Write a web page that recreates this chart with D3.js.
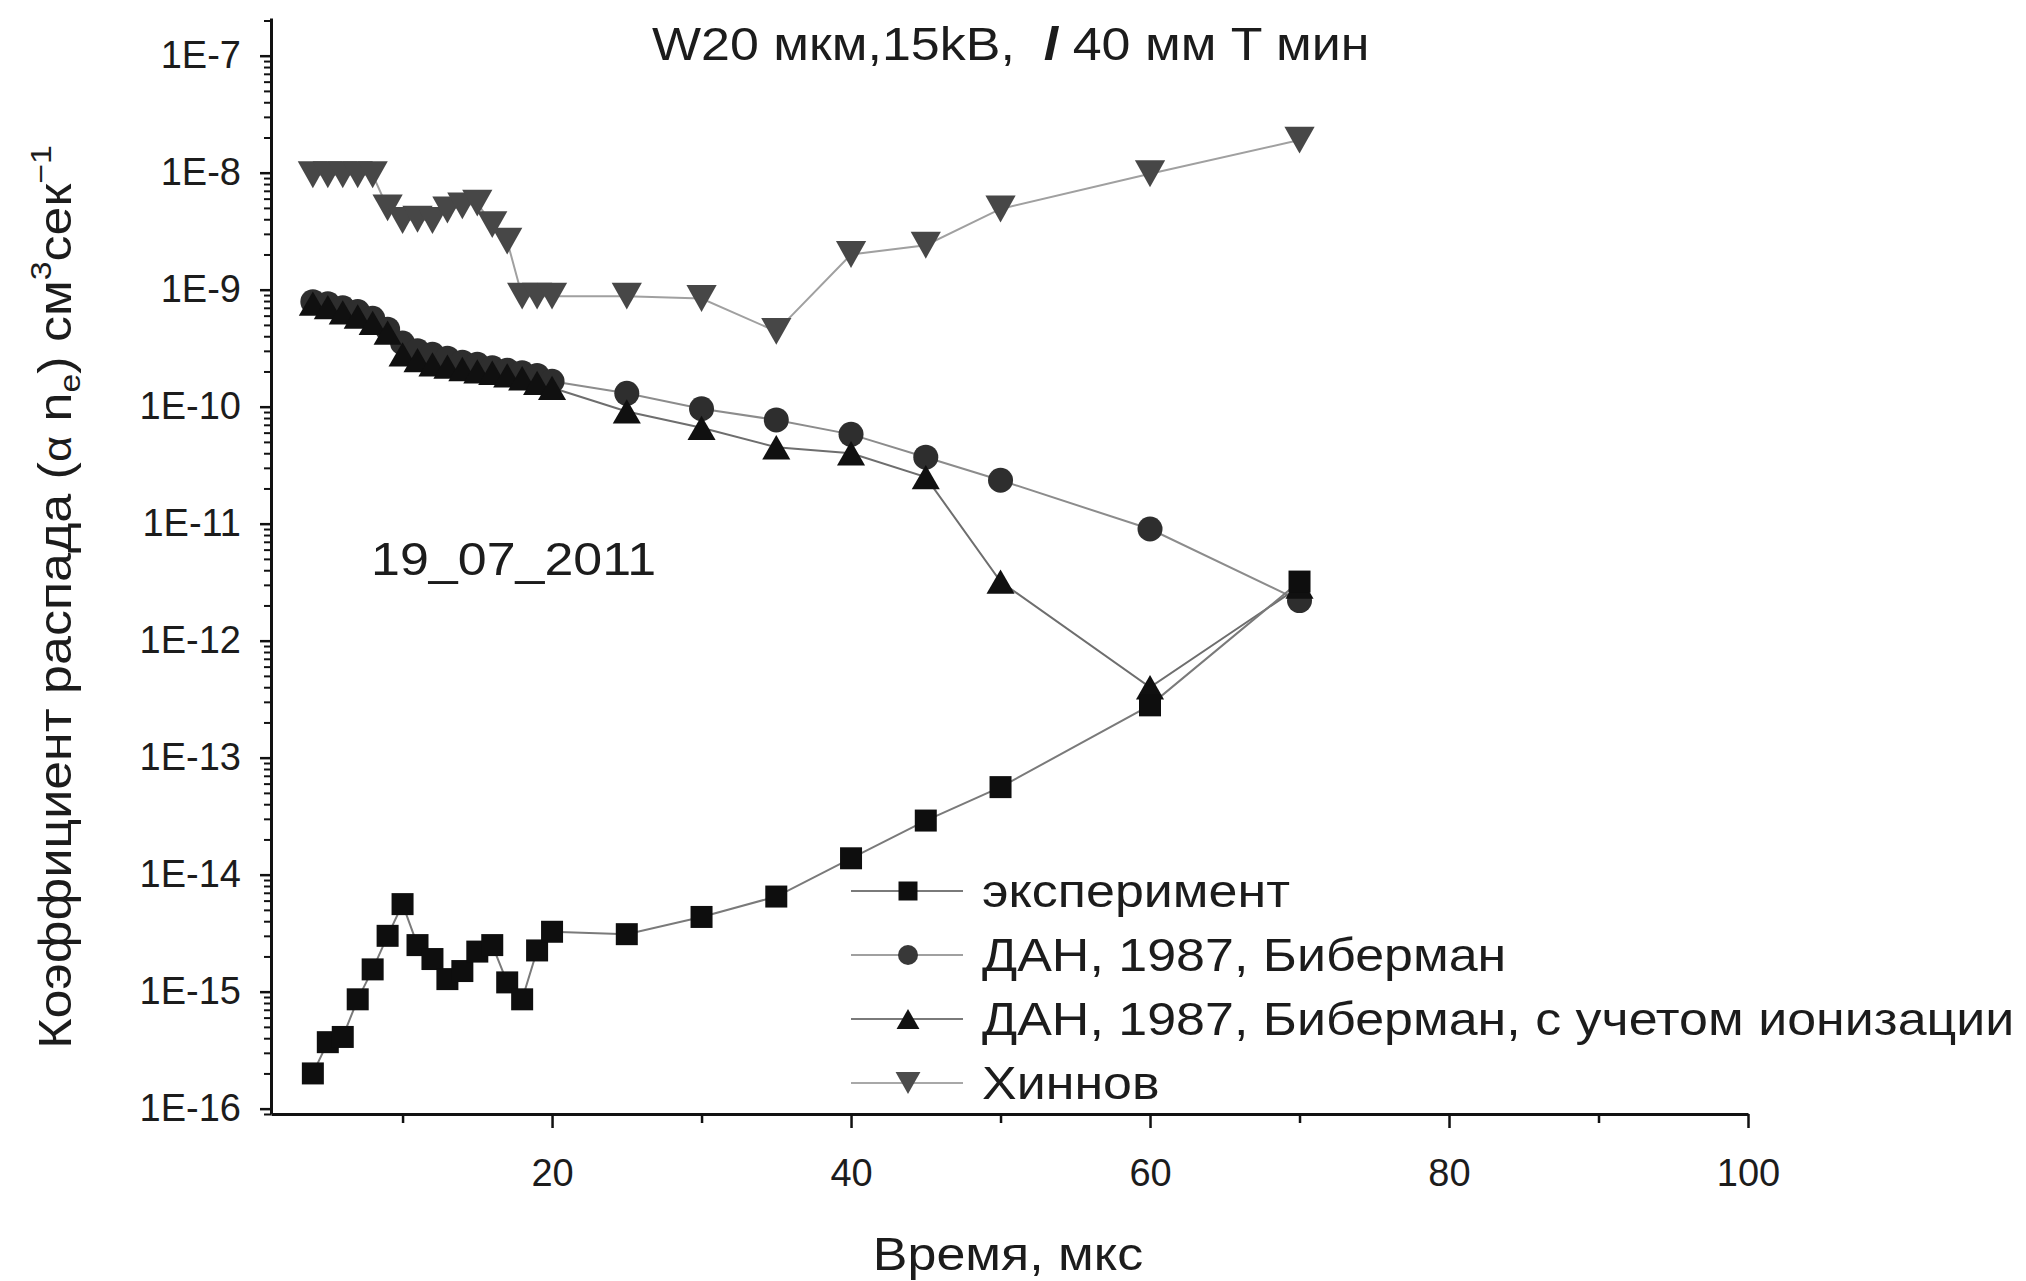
<!DOCTYPE html>
<html>
<head>
<meta charset="utf-8">
<script src="https://cdn.jsdelivr.net/npm/d3@7"></script>
<style>
html,body{margin:0;padding:0;background:#fff;}
svg{display:block;}
text{font-family:"Liberation Sans",Arial,Helvetica,sans-serif;fill:#1c1c1c;white-space:pre;}
</style>
</head>
<body>
<svg id="chart" width="2026" height="1281"></svg>
<script>
// ---------------- data ----------------
const times = [4,5,6,7,8,9,10,11,12,13,14,15,16,17,18,19,20,25,30,35,40,45,50,60,70];

const experiment = [2.0e-16,3.7e-16,4.1e-16,8.6e-16,1.55e-15,3.0e-15,5.6e-15,2.5e-15,1.9e-15,1.28e-15,
  1.5e-15,2.2e-15,2.5e-15,1.2e-15,8.6e-16,2.25e-15,3.25e-15,3.1e-15,4.35e-15,6.5e-15,
  1.38e-14,2.9e-14,5.6e-14,2.8e-13,3.2e-12];

const biberman = [7.9e-10,7.6e-10,7.0e-10,6.5e-10,5.7e-10,4.6e-10,3.5e-10,3.0e-10,2.8e-10,2.6e-10,
  2.4e-10,2.3e-10,2.15e-10,2.05e-10,1.95e-10,1.85e-10,1.65e-10,1.3e-10,9.6e-11,7.7e-11,
  5.8e-11,3.7e-11,2.35e-11,9.0e-12,2.2e-12];

const bibermanIon = [7.6e-10,7.1e-10,6.4e-10,5.9e-10,5.2e-10,4.3e-10,2.8e-10,2.5e-10,2.3e-10,2.2e-10,
  2.1e-10,2.0e-10,1.95e-10,1.85e-10,1.75e-10,1.6e-10,1.45e-10,9.1e-11,6.6e-11,4.5e-11,
  4.0e-11,2.5e-11,3.2e-12,4.0e-13,2.9e-12];

const hinnov = [9.6e-9,9.6e-9,9.6e-9,9.6e-9,9.6e-9,5.0e-9,3.9e-9,4.0e-9,3.9e-9,4.8e-9,
  5.2e-9,5.5e-9,3.6e-9,2.6e-9,8.8e-10,8.8e-10,8.8e-10,8.8e-10,8.4e-10,4.4e-10,
  2.0e-9,2.4e-9,4.9e-9,9.8e-9,1.9e-8];

const seriesNames = ["эксперимент","ДАН, 1987, Биберман","ДАН, 1987, Биберман, с учетом ионизации","Хиннов"];
const xTickValues = [20,40,60,80,100];
const xMinorTickValues = [10,30,50,70,90];
const yTickExponents = [-16,-15,-14,-13,-12,-11,-10,-9,-8,-7];
const titleText = ["W20 мкм,15kB,  ","l"," 40 мм T мин"];
const dateLabel = "19_07_2011";
const xTitle = "Время, мкс";

// ---------------- layout ----------------
const svg = d3.select("#chart");
svg.append("rect").attr("width",2026).attr("height",1281).attr("fill","#fff");

const L = 271, R = 1748, T = 18, B = 1114;
const x = d3.scaleLinear().domain([1.2,100]).range([L,R]);
const y = d3.scaleLog().domain([9e-17,2.1e-7]).range([B,T]);
const SX = 1.13; // horizontal stretch of the original lettering

// ---------------- axes ----------------
const yMajor = yTickExponents.map(e => Math.pow(10,e));
const yMinor = [];
for (let e=-17; e<=-7; e++) for (let m=2; m<=9; m++) {
  const v = m*Math.pow(10,e);
  if (v>y.domain()[0] && v<y.domain()[1]) yMinor.push(v);
}

const yAxisMinor = svg.append("g").attr("transform",`translate(${L},0)`)
  .call(d3.axisLeft(y).tickValues(yMinor).tickSize(7).tickFormat(""));
yAxisMinor.select(".domain").remove();
yAxisMinor.selectAll("line").attr("stroke","#111").attr("stroke-width",2);

const yAxis = svg.append("g").attr("transform",`translate(${L},0)`)
  .call(d3.axisLeft(y).tickValues(yMajor).tickSize(11).tickSizeOuter(0).tickPadding(19)
    .tickFormat(d => "1E" + Math.round(Math.log10(d))));
yAxis.select(".domain").attr("stroke","#111").attr("stroke-width",3);
yAxis.selectAll("line").attr("stroke","#111").attr("stroke-width",2.5);
yAxis.selectAll("text").attr("font-size",38).attr("fill","#1c1c1c")
  .style("font-family",'"Liberation Sans",Arial,sans-serif');

const xAxisMinor = svg.append("g").attr("transform",`translate(0,${B})`)
  .call(d3.axisBottom(x).tickValues(xMinorTickValues).tickSize(9).tickFormat(""));
xAxisMinor.select(".domain").remove();
xAxisMinor.selectAll("line").attr("stroke","#111").attr("stroke-width",2.5);

const xAxis = svg.append("g").attr("transform",`translate(0,${B})`)
  .call(d3.axisBottom(x).tickValues(xTickValues).tickSize(14).tickSizeOuter(0).tickPadding(31)
    .tickFormat(d3.format("d")));
xAxis.select(".domain").attr("stroke","#111").attr("stroke-width",3);
xAxis.selectAll("line").attr("stroke","#111").attr("stroke-width",2.5);
xAxis.selectAll("text").attr("font-size",38).attr("fill","#1c1c1c")
  .style("font-family",'"Liberation Sans",Arial,sans-serif');

// ---------------- symbols ----------------
const sym = {
  square: s => `M${-s/2},${-s/2}h${s}v${s}h${-s}Z`,
  circle: s => d3.symbol(d3.symbolCircle, Math.PI*(s/2)*(s/2))(),
  triUp: s => `M0,${-s*0.45}L${s*0.52},${s*0.45}L${-s*0.52},${s*0.45}Z`,
  triDown: s => `M0,${s*0.48}L${s*0.54},${-s*0.48}L${-s*0.54},${-s*0.48}Z`
};

const series = [
  {name:seriesNames[1], values:biberman,    shape:"circle",  size:25, fill:"#2e2e2e", line:"#8c8c8c"},
  {name:seriesNames[2], values:bibermanIon, shape:"triUp",   size:27, fill:"#101010", line:"#6e6e6e"},
  {name:seriesNames[0], values:experiment,  shape:"square",  size:22, fill:"#0e0e0e", line:"#7a7a7a"},
  {name:seriesNames[3], values:hinnov,      shape:"triDown", size:28, fill:"#474747", line:"#a0a0a0"}
];

const lineGen = d3.line().x(d => x(d[0])).y(d => y(d[1]));
series.forEach(s => {
  const pts = times.map((t,i) => [t, s.values[i]]);
  svg.append("path").datum(pts).attr("d",lineGen)
    .attr("fill","none").attr("stroke",s.line).attr("stroke-width",2);
});
series.forEach(s => {
  const pts = times.map((t,i) => [t, s.values[i]]);
  svg.append("g").selectAll("path").data(pts).join("path")
    .attr("transform",d => `translate(${x(d[0])},${y(d[1])})`)
    .attr("d",sym[s.shape](s.size))
    .attr("fill",s.fill);
});

// ---------------- texts ----------------
function stretchedText(px, py, anchor, size, rot) {
  return svg.append("text")
    .attr("transform",`translate(${px},${py})${rot?` rotate(${rot})`:""} scale(${SX},1)`)
    .attr("text-anchor",anchor).attr("font-size",size);
}

const title = stretchedText(652, 60, "start", 46);
title.append("tspan").text(titleText[0]);
title.append("tspan").attr("font-style","italic").attr("font-weight","bold").text(titleText[1]);
title.append("tspan").text(titleText[2]);

stretchedText(371, 575, "start", 46).text(dateLabel);
stretchedText(1008, 1270, "middle", 46).text(xTitle);

const yt = stretchedText(71, 597, "middle", 46, -90);
yt.append("tspan").text("Коэффициент распада (");
yt.append("tspan").text("α").attr("font-size",40);
yt.append("tspan").text(" n");
yt.append("tspan").text("e").attr("font-size",30).attr("dy",9);
yt.append("tspan").text(") см").attr("dy",-9);
yt.append("tspan").text("3").attr("font-size",30).attr("dy",-20);
yt.append("tspan").text("сек").attr("dy",20);
yt.append("tspan").text("−1").attr("font-size",30).attr("dy",-20);

// ---------------- legend ----------------
const legendOrder = [
  {name:seriesNames[0], shape:"square",  size:19, fill:"#0e0e0e", line:"#7a7a7a"},
  {name:seriesNames[1], shape:"circle",  size:20, fill:"#383838", line:"#a0a0a0"},
  {name:seriesNames[2], shape:"triUp",   size:22, fill:"#121212", line:"#7a7a7a"},
  {name:seriesNames[3], shape:"triDown", size:23, fill:"#4c4c4c", line:"#a8a8a8"}
];
const legendY = d3.scalePoint().domain(legendOrder.map(d=>d.name)).range([891,1083]);
legendOrder.forEach(d => {
  const cy = legendY(d.name);
  svg.append("line").attr("x1",851).attr("x2",963).attr("y1",cy).attr("y2",cy)
    .attr("stroke",d.line).attr("stroke-width",2);
  svg.append("path").attr("transform",`translate(908,${cy})`).attr("d",sym[d.shape](d.size)).attr("fill",d.fill);
  stretchedText(982, cy+16, "start", 46).text(d.name);
});
</script>
</body>
</html>
